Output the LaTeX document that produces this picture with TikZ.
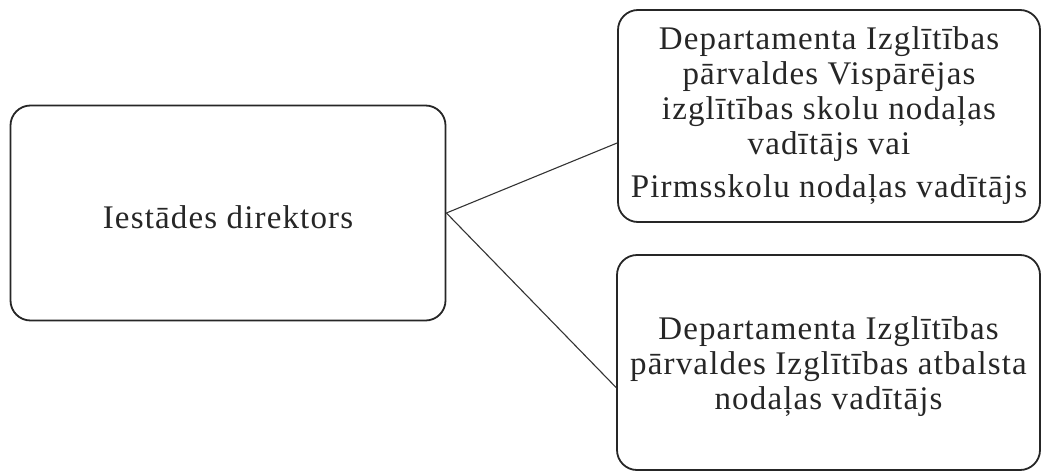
\documentclass[tikz,border=0pt]{standalone}
\usepackage{fontspec}
\setmainfont{Liberation Serif}[LetterSpace=3.5]
\begin{document}
\begin{tikzpicture}[x=1pt,y=-1pt,
  box/.style={draw=black!85,line width=1.8pt,rounded corners=20pt,inner sep=0pt},
  lbl/.style={align=center,font=\fontsize{33}{35}\selectfont,text=black!85},
  conn/.style={draw=black!80,line width=1.1pt}]
\useasboundingbox (0,0) rectangle (1043,471);
\node[box,minimum width=435pt,minimum height=215pt] (L) at (228,213) {};
\node[box,minimum width=422pt,minimum height=212pt] (T) at (829,116) {};
\node[box,minimum width=423pt,minimum height=215pt] (B) at (828.5,362.5) {};
\node[lbl] (Lt) at (228,217) {Iestādes direktors};
\node[lbl,anchor=north] (Tt) at (829,23) {Departamenta Izglītības\\pārvaldes Vispārējas\\izglītības skolu nodaļas\\vadītājs vai\\[8pt]Pirmsskolu nodaļas vadītājs};
\node[lbl] (Bt) at (828.5,367) {Departamenta Izglītības\\pārvaldes Izglītības atbalsta\\nodaļas vadītājs};
\draw[conn] (L.east) -- ([yshift=-27pt]T.west);
\draw[conn] (L.east) -- ([yshift=-25pt]B.west);
\end{tikzpicture}
\end{document}
